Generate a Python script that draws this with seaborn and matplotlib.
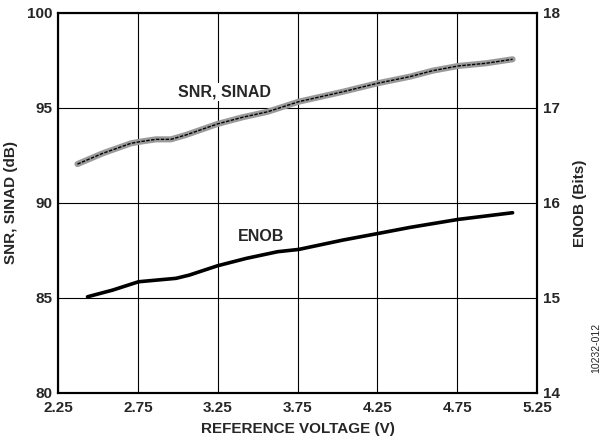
import numpy as np
import pandas as pd
import matplotlib
matplotlib.use("Agg")
import matplotlib.pyplot as plt
import seaborn as sns

# -----------------------------
# Data
# -----------------------------
snr_vref = [2.369, 2.526, 2.704, 2.756, 2.861, 2.955, 3.049, 3.247, 3.404, 3.561,
            3.756, 4.032, 4.251, 4.45, 4.596, 4.757, 4.93, 5.097]
snr_db = [92.04, 92.60, 93.13, 93.21, 93.34, 93.34, 93.57, 94.15, 94.50, 94.79,
          95.32, 95.84, 96.29, 96.63, 96.95, 97.20, 97.34, 97.55]

enob_vref = [2.432, 2.589, 2.752, 2.987, 3.07, 3.247, 3.428, 3.624, 3.756, 4.032,
             4.261, 4.455, 4.757, 5.097]
enob_bits = [15.012, 15.082, 15.17, 15.206, 15.24, 15.338, 15.416, 15.486, 15.51, 15.608,
             15.68, 15.742, 15.826, 15.896]

X_TICKS = [2.25, 2.75, 3.25, 3.75, 4.25, 4.75, 5.25]
Y_TICKS = [80, 85, 90, 95, 100]
Y2_TICKS = [14, 15, 16, 17, 18]

snr = pd.DataFrame({"vref": snr_vref, "db": snr_db})
enob = pd.DataFrame({"vref": enob_vref, "bits": enob_bits})

# -----------------------------
# Plot
# -----------------------------
sns.set_style("white")
plt.rcParams["font.family"] = ["Liberation Sans", "DejaVu Sans"]
plt.rcParams["font.weight"] = "bold"

fig = plt.figure(figsize=(6.1, 4.44), dpi=100)
ax = fig.add_axes([0.0959, 0.1149, 0.7844, 0.8565])
ax2 = ax.twinx()

# SINAD (wide grey) with SNR (thin dashed black) on top
sns.lineplot(data=snr, x="vref", y="db", ax=ax, color="#9a9a9a", linewidth=4.4,
             solid_capstyle="round", solid_joinstyle="round", zorder=3)
sns.lineplot(data=snr, x="vref", y="db", ax=ax, color="black", linewidth=1.0,
             linestyle=(0, (2.5, 1)), zorder=4)
sns.lineplot(data=enob, x="vref", y="bits", ax=ax2, color="black", linewidth=2.6,
             solid_capstyle="round", solid_joinstyle="round", zorder=4)

ax.set_xlim(2.25, 5.25)
ax.set_ylim(80, 100)
ax2.set_ylim(14, 18)
ax.set_xticks(X_TICKS)
ax.set_yticks(Y_TICKS)
ax2.set_yticks(Y2_TICKS)
ax.set_xticklabels([f"{v:.2f}" for v in X_TICKS])

ax.grid(True, color="black", linewidth=0.8)
ax.set_axisbelow(True)
ax.tick_params(axis="y", length=0, pad=4, labelsize=11)
ax.tick_params(axis="x", length=0, pad=6, labelsize=11)
ax2.tick_params(length=0, pad=4, labelsize=11)
for a in (ax, ax2):
    for s in a.spines.values():
        s.set_color("black")
        s.set_linewidth(1.5)
    for lbl in a.get_xticklabels() + a.get_yticklabels():
        lbl.set_fontweight("bold")

ax.set_xlabel("REFERENCE VOLTAGE (V)", fontsize=11, fontweight="bold")
ax.set_ylabel("SNR, SINAD (dB)", fontsize=11, fontweight="bold")
ax2.set_ylabel("ENOB (Bits)", fontsize=11, fontweight="bold")
ax.xaxis.set_label_coords(0.5, -0.077)
ax.yaxis.set_label_coords(-0.085, 0.5)
ax2.yaxis.set_label_coords(1.075, 0.5)

ax.text(3.29, 95.84, "SNR, SINAD", fontsize=11.5, fontweight="bold", ha="center",
        va="center", zorder=5, bbox=dict(facecolor="white", edgecolor="none", pad=1))
ax.text(3.523, 88.25, "ENOB", fontsize=11.5, fontweight="bold", ha="center",
        va="center", zorder=5, bbox=dict(facecolor="white", edgecolor="none", pad=1))

fig.text(0.978, 0.16, "10232-012", rotation=90, fontsize=7.5, fontweight="normal",
         ha="center", va="bottom")

fig.savefig("out.png", dpi=100)
